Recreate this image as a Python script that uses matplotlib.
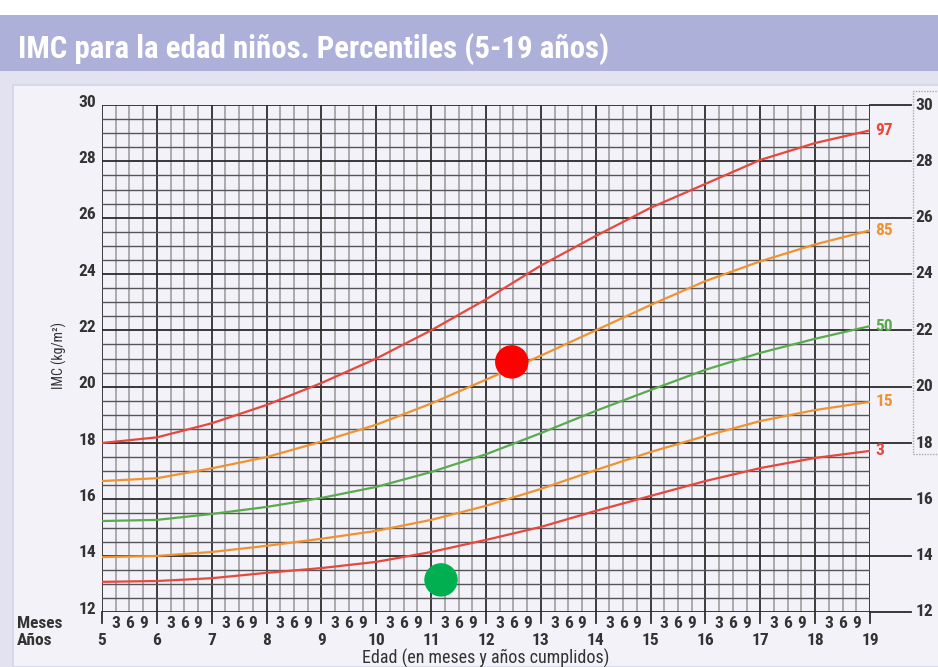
import matplotlib
matplotlib.use("Agg")
import matplotlib.pyplot as plt
import numpy as np
from matplotlib.patches import Rectangle
from matplotlib import font_manager

# edad en años
edad = [5, 6, 7, 8, 9, 10, 11, 12, 13, 14, 15, 16, 17, 18, 19]

# percentiles IMC (kg/m2)
p97 = [18.0, 18.2, 18.7, 19.35, 20.13, 21.0, 22.0, 23.1, 24.3, 25.35, 26.35, 27.2, 28.05, 28.65, 29.1]
p85 = [16.65, 16.75, 17.1, 17.5, 18.05, 18.65, 19.4, 20.25, 21.1, 22.0, 22.9, 23.75, 24.45, 25.05, 25.55]
p50 = [15.23, 15.27, 15.48, 15.73, 16.05, 16.44, 16.97, 17.6, 18.35, 19.14, 19.88, 20.6, 21.2, 21.7, 22.15]
p15 = [13.95, 13.99, 14.13, 14.35, 14.6, 14.88, 15.27, 15.77, 16.37, 17.04, 17.68, 18.25, 18.78, 19.17, 19.46]
p3 = [13.07, 13.1, 13.2, 13.39, 13.56, 13.78, 14.13, 14.56, 15.02, 15.59, 16.12, 16.65, 17.11, 17.47, 17.72]

curvas = [("97", p97, "#e8473d"), ("85", p85, "#f0922f"), ("50", p50, "#5aab4e"),
          ("15", p15, "#f0922f"), ("3", p3, "#e8473d")]

# puntos marcados
punto_rojo = (12.47, 20.88)
punto_verde = (11.18, 13.14)

# buscar una fuente estrecha si existe
nombres = {f.name for f in font_manager.fontManager.ttflist}
estrechas = {f.name for f in font_manager.fontManager.ttflist
             if f.stretch not in ("normal", 500) or "Narrow" in f.name or "Condensed" in f.name}
FUENTE = ["DejaVu Sans"]
ESTIRA = "normal"
for cand in ["Liberation Sans Narrow", "Roboto Condensed", "Open Sans Condensed", "DejaVu Sans Condensed"]:
    if cand in nombres:
        FUENTE = [cand, "DejaVu Sans"]
        break
else:
    if "DejaVu Sans" in estrechas:
        ESTIRA = "condensed"
    elif "Roboto" in nombres:
        FUENTE = ["Roboto", "DejaVu Sans"]
plt.rcParams["font.family"] = FUENTE
plt.rcParams["font.stretch"] = ESTIRA

TXT = "#333333"
fig = plt.figure(figsize=(9.38, 6.67), dpi=100)
fig.patch.set_facecolor("#e2e2f1")

# fondos del panel
fig.add_artist(Rectangle((0, 1 - 15 / 667), 1, 15 / 667, transform=fig.transFigure,
                         facecolor="white", edgecolor="none", zorder=0))
fig.add_artist(Rectangle((0, 1 - 71 / 667), 1, 56 / 667, transform=fig.transFigure,
                         facecolor="#adb0d9", edgecolor="none", zorder=0))
fig.add_artist(Rectangle((13 / 938, 0), 1, 1 - 85 / 667, transform=fig.transFigure,
                         facecolor="#f2f2f8", edgecolor="#d4d5ea", lw=1.2, zorder=0))
titulo = fig.text(18 / 938, 1 - 49 / 667, "IMC para la edad niños. Percentiles (5-19 años)",
                  color="white", fontsize=19, fontweight="bold", va="center", ha="left")

ax = fig.add_axes([102 / 938, 1 - 612 / 667, 768 / 938, 507 / 667])
ax.set_facecolor("none")
ax.set_xlim(5, 19)
ax.set_ylim(12, 30)
for s in ax.spines.values():
    s.set_visible(False)
ax.set_xticks([])
ax.set_yticks([])

# cuadrícula
for m in np.arange(5, 19.01, 0.25):
    if abs(m - round(m)) < 1e-6:
        ax.axvline(m, color="#2e2e2e", lw=1.3, zorder=1)
    else:
        ax.axvline(m, color="#a5a5a8", lw=1.3, zorder=1)
for v in np.arange(12, 30.01, 0.5):
    if abs(v % 2) < 1e-6:
        ax.axhline(v, color="#2a2a2a", lw=1.3, zorder=1.5)
        ax.plot([19, 19.75], [v, v], color="#2a2a2a", lw=1.3, clip_on=False, zorder=1.5)
        ax.text(4.9, v + 0.1, str(int(v)), ha="right", va="center", fontsize=12.5,
                fontweight="bold", color=TXT)
        ax.text(19.83, v, str(int(v)), ha="left", va="center", fontsize=12.5,
                fontweight="bold", color=TXT)
    else:
        ax.axhline(v, color="#555558", lw=1.0, zorder=1.5)

# recuadro punteado derecho
ax.add_patch(Rectangle((19.78, 17.6), 0.6, 12.9, fill=False, ls=(0, (1, 1)),
                       edgecolor="#aaaaaa", lw=1, clip_on=False))

# curvas
for nombre, valores, color in curvas:
    ax.plot(edad, valores, color=color, lw=1.6, zorder=3)
    ax.text(19.1, valores[-1], nombre, color=color, fontsize=12.5, fontweight="bold",
            ha="left", va="center")

ax.scatter(*punto_rojo, s=580, color="#ff0000", zorder=4, edgecolors="none")
ax.scatter(*punto_verde, s=580, color="#00b050", zorder=4, edgecolors="none")

# eje inferior: meses y años
for a in edad:
    ax.plot([a, a], [12, 11.62], color="#2e2e2e", lw=1.3, clip_on=False)
    ax.text(a, 10.98, str(a), ha="center", va="center", fontsize=12.5,
            fontweight="bold", color=TXT)
    if a < 19:
        for k, mes in enumerate(["3", "6", "9"]):
            ax.text(a + 0.25 * (k + 1), 11.6, mes, ha="center", va="center",
                    fontsize=12.5, fontweight="bold", color=TXT)

ax.text(-0.111, 11.6, "Meses", transform=ax.get_yaxis_transform(), fontsize=12.5,
        fontweight="bold", color=TXT, va="center", ha="left")
ax.text(-0.111, 10.98, "Años", transform=ax.get_yaxis_transform(), fontsize=12.5,
        fontweight="bold", color=TXT, va="center", ha="left")
ax.text(12, 10.35, "Edad (en meses y años cumplidos)", ha="center", va="center",
        fontsize=13, color=TXT)
ax.text(4.22, 21.1, "IMC (kg/m²)", rotation=90, ha="center", va="center",
        fontsize=10, color=TXT)

# ajustar el título al ancho del original
fig.canvas.draw()
ancho = titulo.get_window_extent().width
titulo.set_fontsize(19 * 592 / ancho)

fig.savefig("out.png", dpi=100, facecolor=fig.get_facecolor())
